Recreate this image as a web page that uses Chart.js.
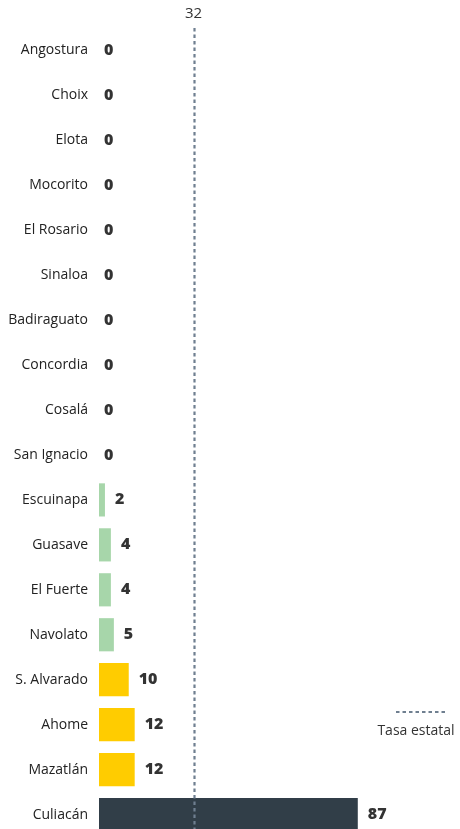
<!DOCTYPE html>
<html><head><meta charset="utf-8">
<script src="https://cdn.jsdelivr.net/npm/chart.js@4/dist/chart.umd.min.js"></script>
<style>html,body{margin:0;padding:0;background:#fff;overflow:hidden}canvas{display:block}</style>
</head><body><canvas id="c" width="460" height="837"></canvas>
<script>
const categories = ["Angostura","Choix","Elota","Mocorito","El Rosario","Sinaloa","Badiraguato","Concordia","Cosalá","San Ignacio","Escuinapa","Guasave","El Fuerte","Navolato","S. Alvarado","Ahome","Mazatlán","Culiacán"];
const values = [0,0,0,0,0,0,0,0,0,0,2,4,4,5,10,12,12,87];
const stateRate = 32;
const stateLabel = "Tasa estatal";

const colorFor = v => v >= 30 ? "#313e48" : (v >= 10 ? "#ffcc00" : "#a7d6aa");

const overlay = {
  id: "overlay",
  afterDatasetsDraw(chart) {
    const ctx = chart.ctx, xs = chart.scales.x;
    const meta = chart.getDatasetMeta(0);
    ctx.save();
    ctx.font = "800 16px 'Open Sans'";
    ctx.fillStyle = "#333";
    ctx.textAlign = "left"; ctx.textBaseline = "middle";
    meta.data.forEach((bar, i) => {
      const v = values[i];
      const x = v > 0 ? bar.x + 10 : xs.getPixelForValue(0) + 5;
      ctx.fillText(String(v), x, bar.y);
    });
    const lx = Math.round(xs.getPixelForValue(stateRate)) + 0.5;
    ctx.strokeStyle = "#6f7f90"; ctx.lineWidth = 2.2; ctx.setLineDash([3.5, 3]);
    ctx.beginPath(); ctx.moveTo(lx, 28); ctx.lineTo(lx, chart.height); ctx.stroke();
    ctx.setLineDash([]);
    ctx.font = "15px 'Open Sans'"; ctx.fillStyle = "#333"; ctx.textAlign = "center";
    ctx.fillText(String(stateRate), lx - 1, 14);
    // legend
    ctx.strokeStyle = "#6f7f90"; ctx.lineWidth = 2.2; ctx.setLineDash([3.5, 3]);
    ctx.beginPath(); ctx.moveTo(396, 712); ctx.lineTo(446, 712); ctx.stroke();
    ctx.setLineDash([]);
    ctx.font = "14px 'Open Sans'";
    ctx.textAlign = "center"; ctx.fillStyle = "#333";
    ctx.fillText(stateLabel, 416, 731);
    ctx.restore();
  }
};

new Chart(document.getElementById("c"), {
  type: "bar",
  data: { labels: categories, datasets: [{ data: values, backgroundColor: values.map(colorFor), barPercentage: 0.82, categoryPercentage: 0.9, borderWidth: 0 }] },
  options: {
    indexAxis: "y", responsive: false, animation: false,
    layout: { padding: { top: 28, bottom: 0, right: 10, left: 0 } },
    plugins: { legend: { display: false }, tooltip: { enabled: false } },
    scales: {
      x: { display: false, min: 0, max: 118 },
      y: {
        grid: { display: false, drawBorder: false }, border: { display: false },
        ticks: { color: "#222", font: { family: "'Open Sans'", size: 14 }, padding: 3 },
        afterFit(s) { s.width = 99; s.paddingTop = 0; s.paddingBottom = 0; }
      }
    }
  },
  plugins: [overlay]
});
</script></body></html>
